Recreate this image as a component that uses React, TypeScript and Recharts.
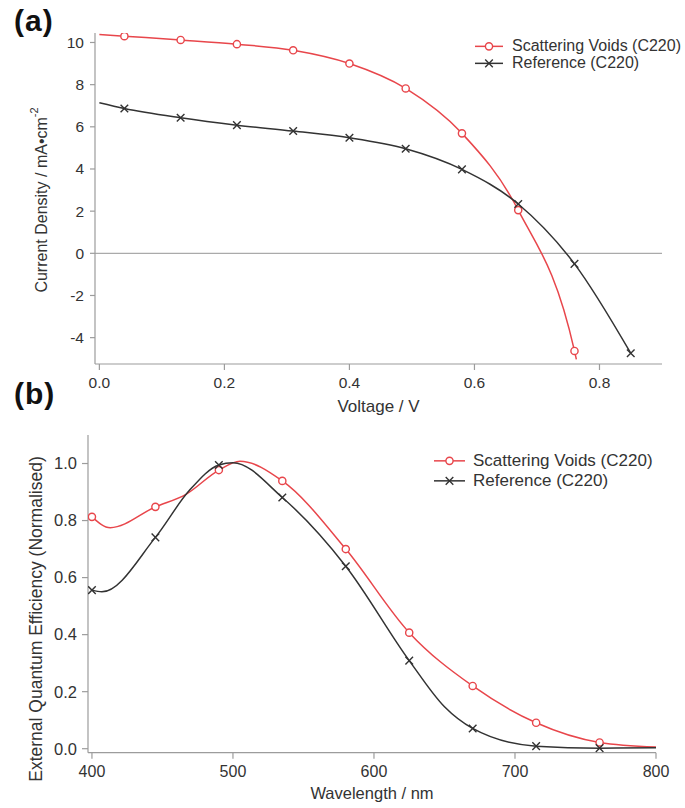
import { LineChart, Line, XAxis, YAxis, ReferenceLine, Legend } from 'recharts';

// (a) J-V curves
const jvVoltsVoids = [0, 0.04, 0.13, 0.22, 0.31, 0.4, 0.49, 0.58, 0.67, 0.76, 0.763];
const jvVoids = [10.38, 10.3, 10.12, 9.92, 9.63, 9.0, 7.82, 5.69, 2.05, -4.63, -5.03];
const jvVoltsRef = [0, 0.04, 0.13, 0.22, 0.31, 0.4, 0.49, 0.58, 0.67, 0.76, 0.85];
const jvRef = [7.14, 6.87, 6.43, 6.08, 5.8, 5.48, 4.96, 3.98, 2.34, -0.5, -4.74];
const jvMarkVolts = [0.04, 0.13, 0.22, 0.31, 0.4, 0.49, 0.58, 0.67, 0.76, 0.85];
const voltTicks = [0, 0.2, 0.4, 0.6, 0.8];
const currentTicks = [-4, -2, 0, 2, 4, 6, 8, 10];

// (b) EQE spectra
const eqeWlVoids = [400, 413, 445, 467, 490, 505, 535, 580, 625, 670, 715, 760, 800];
const eqeVoids = [0.813, 0.775, 0.848, 0.893, 0.977, 1.008, 0.939, 0.7, 0.407, 0.22, 0.091, 0.022, 0.006];
const eqeWlRef = [400, 407, 445, 469, 490, 500, 535, 580, 625, 650, 670, 715, 760, 800];
const eqeRef = [0.556, 0.55, 0.741, 0.905, 0.995, 1.003, 0.881, 0.64, 0.309, 0.147, 0.071, 0.009, 0.002, 0.003];
const eqeMarkWl = [400, 445, 490, 535, 580, 625, 670, 715, 760];
const wlTicks = [400, 500, 600, 700, 800];
const eqeTicks = [0, 0.2, 0.4, 0.6, 0.8, 1.0];

const seriesNames = ['Scattering Voids (C220)', 'Reference (C220)'];

const RED = '#e8464b';
const DARK = '#333333';
const AXIS = '#9c9c9c';
const TEXT = '#333333';

const jvVoidsData = jvVoltsVoids.map((v, i) => ({ v, j: jvVoids[i] }));
const jvRefData = jvVoltsRef.map((v, i) => ({ v, j: jvRef[i] }));
const eqeVoidsData = eqeWlVoids.map((wl, i) => ({ wl, q: eqeVoids[i] }));
const eqeRefData = eqeWlRef.map((wl, i) => ({ wl, q: eqeRef[i] }));

function circleMark(cx: number, cy: number, key?: any) {
  return <circle key={key} cx={cx} cy={cy} r={3.6} fill="#fff" stroke={RED} strokeWidth={1.4} />;
}

function crossMark(cx: number, cy: number, key?: any) {
  const s = 3.8;
  return (
    <path key={key} d={`M${cx - s},${cy - s}L${cx + s},${cy + s}M${cx + s},${cy - s}L${cx - s},${cy + s}`}
      stroke={DARK} strokeWidth={1.4} fill="none" />
  );
}

const makeDot = (marks: number[], xKey: string, shape: 'circle' | 'cross') => (props: any) => {
  const { cx, cy, payload, index } = props;
  if (!payload || !marks.includes(payload[xKey]) || cx == null || cy == null) return <g key={`d${index}`} />;
  return shape === 'circle' ? circleMark(cx, cy, `d${index}`) : crossMark(cx, cy, `d${index}`);
};

function SeriesLegend({ fontSize, rowHeight, iconWidth, gap }: { fontSize: number; rowHeight: number; iconWidth: number; gap: number }) {
  return (
    <div style={{ fontSize, color: TEXT, lineHeight: `${rowHeight}px` }}>
      {seriesNames.map((name, i) => (
        <div key={name} style={{ display: 'flex', alignItems: 'center', height: rowHeight }}>
          <svg width={iconWidth} height={rowHeight} style={{ display: 'block' }}>
            <line x1={0} x2={iconWidth} y1={rowHeight / 2} y2={rowHeight / 2} stroke={i === 0 ? RED : DARK} strokeWidth={1.5} />
            {i === 0 ? circleMark(iconWidth / 2, rowHeight / 2) : crossMark(iconWidth / 2, rowHeight / 2)}
          </svg>
          <span style={{ marginLeft: gap, whiteSpace: 'nowrap' }}>{name}</span>
        </div>
      ))}
    </div>
  );
}

const titleA = () => (
  <text transform="translate(41,200) rotate(-90)" textAnchor="middle" dominantBaseline="central" fill={TEXT} fontSize={16}>
    Current Density / mA•cm<tspan dy={-7} fontSize={11}>-2</tspan>
  </text>
);

const titleB = () => (
  <text transform="translate(36,199) rotate(-90)" textAnchor="middle" dominantBaseline="central" fill={TEXT} fontSize={17.5}>
    External Quantum Efficiency (Normalised)
  </text>
);

const panelLabel: React.CSSProperties = {
  position: 'absolute', left: 14, fontSize: 30, fontWeight: 700, lineHeight: '30px', color: '#111', letterSpacing: '1px',
};

export default function App() {
  return (
    <div style={{
      position: 'absolute', left: 0, top: 0, width: 685, height: 808, background: '#fff',
      fontFamily: '"Liberation Sans", Arial, sans-serif',
    }}>
      <div style={{ position: 'absolute', left: 0, top: 0 }}>
        <LineChart width={685} height={420} margin={{ top: 33, right: 23, bottom: 0, left: 0 }}>
          <XAxis type="number" dataKey="v" domain={[-0.007, 0.9]} ticks={voltTicks} allowDataOverflow
            tickFormatter={(t: number) => t.toFixed(1)} height={56}
            tick={{ fill: TEXT, fontSize: 15.5 }} tickSize={6} tickMargin={7}
            axisLine={{ stroke: AXIS, strokeWidth: 1.2 }} tickLine={{ stroke: AXIS, strokeWidth: 1.2 }}
            label={{ value: 'Voltage / V', position: 'insideBottom', offset: 8, fill: TEXT, fontSize: 17 }} />
          <YAxis type="number" domain={[-5.25, 10.45]} ticks={currentTicks} allowDataOverflow width={95}
            tick={{ fill: TEXT, fontSize: 15.5 }} tickSize={5} tickMargin={6}
            axisLine={{ stroke: AXIS, strokeWidth: 1.2 }} tickLine={{ stroke: AXIS, strokeWidth: 1.2 }}
            label={{ content: titleA }} />
          <ReferenceLine y={0} stroke="#aaaaaa" strokeWidth={1.2} />
          <Legend layout="vertical" align="center" verticalAlign="middle"
            wrapperStyle={{ top: 38, left: 475, width: 'auto' }}
            content={() => <SeriesLegend fontSize={16} rowHeight={16.7} iconWidth={28} gap={9} />} />
          <Line data={jvVoidsData} dataKey="j" name={seriesNames[0]} type="monotone" stroke={RED} strokeWidth={1.5}
            dot={makeDot(jvMarkVolts, 'v', 'circle')} activeDot={false} isAnimationActive={false} />
          <Line data={jvRefData} dataKey="j" name={seriesNames[1]} type="monotone" stroke={DARK} strokeWidth={1.5}
            dot={makeDot(jvMarkVolts, 'v', 'cross')} activeDot={false} isAnimationActive={false} />
        </LineChart>
      </div>

      <div style={{ position: 'absolute', left: 0, top: 420 }}>
        <LineChart width={685} height={388} margin={{ top: 15, right: 29, bottom: 0, left: 0 }}>
          <XAxis type="number" dataKey="wl" domain={[397.2, 800]} ticks={wlTicks} allowDataOverflow height={55.3}
            tick={{ fill: TEXT, fontSize: 16 }} tickSize={6} tickMargin={7}
            axisLine={{ stroke: AXIS, strokeWidth: 1.2 }} tickLine={{ stroke: AXIS, strokeWidth: 1.2 }}
            label={{ value: 'Wavelength / nm', position: 'insideBottom', offset: 9, fill: TEXT, fontSize: 16.5 }} />
          <YAxis type="number" domain={[-0.014, 1.1]} ticks={eqeTicks} allowDataOverflow width={88}
            tickFormatter={(t: number) => t.toFixed(1)}
            tick={{ fill: TEXT, fontSize: 16.5 }} tickSize={6} tickMargin={5}
            axisLine={{ stroke: AXIS, strokeWidth: 1.2 }} tickLine={{ stroke: AXIS, strokeWidth: 1.2 }}
            label={{ content: titleB }} />
          <Legend layout="vertical" align="center" verticalAlign="middle"
            wrapperStyle={{ top: 31, left: 434, width: 'auto' }}
            content={() => <SeriesLegend fontSize={17} rowHeight={19.7} iconWidth={31} gap={8} />} />
          <Line data={eqeVoidsData} dataKey="q" name={seriesNames[0]} type="monotone" stroke={RED} strokeWidth={1.5}
            dot={makeDot(eqeMarkWl, 'wl', 'circle')} activeDot={false} isAnimationActive={false} />
          <Line data={eqeRefData} dataKey="q" name={seriesNames[1]} type="monotone" stroke={DARK} strokeWidth={1.5}
            dot={makeDot(eqeMarkWl, 'wl', 'cross')} activeDot={false} isAnimationActive={false} />
        </LineChart>
      </div>

      <div style={{ ...panelLabel, top: 6 }}>(a)</div>
      <div style={{ ...panelLabel, top: 379 }}>(b)</div>
    </div>
  );
}
